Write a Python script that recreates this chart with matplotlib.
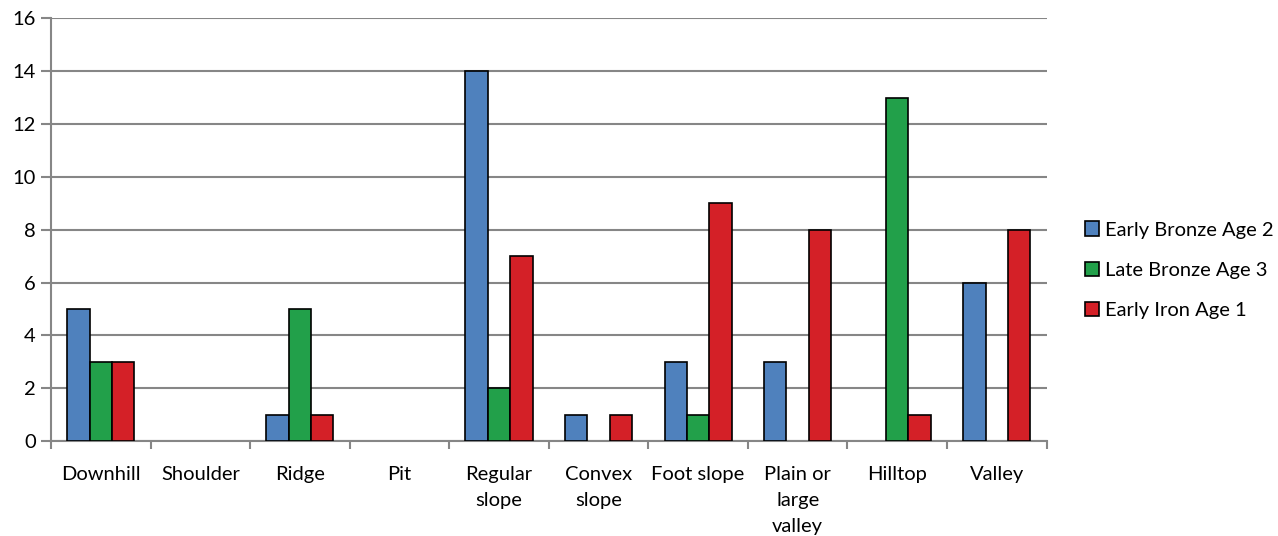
import numpy as np
import matplotlib.pyplot as plt

categories = ["Downhill", "Shoulder", "Ridge", "Pit", "Regular\nslope", "Convex\nslope",
              "Foot slope", "Plain or\nlarge\nvalley", "Hilltop", "Valley"]
early_bronze = [5, 0, 1, 0, 14, 1, 3, 3, 0, 6]
late_bronze = [3, 0, 5, 0, 2, 0, 1, 0, 13, 0]
early_iron = [3, 0, 1, 0, 7, 1, 9, 8, 1, 8]
series = ["Early Bronze Age 2", "Late Bronze Age 3", "Early Iron Age 1"]
colors = ["#4F81BD", "#22A04A", "#D42027"]

plt.rcParams['font.family'] = ['Lato', 'DejaVu Sans']

fig = plt.figure(figsize=(12.78, 5.36), dpi=100)
ax = fig.add_axes([0.0399, 0.177, 0.779, 0.789])

x = np.arange(len(categories))
w = 0.225
for i, (vals, lab, c) in enumerate(zip([early_bronze, late_bronze, early_iron], series, colors)):
    h = np.array(vals, dtype=float)
    h[h == 0] = np.nan
    ax.bar(x + (i - 1) * w, h, width=w, color=c, edgecolor='black', linewidth=1.2,
           label=lab, zorder=3)

ax.set_xlim(-0.5, len(categories) - 0.5)
ax.set_ylim(0, 16)
ax.set_yticks(range(0, 17, 2))
ax.yaxis.grid(True, color='#868686', linewidth=1.5, zorder=0)
ax.set_axisbelow(True)

ax.set_xticks(x)
ax.set_xticklabels(categories, fontsize=14.5, linespacing=1.65, va='top')
ax.set_xticks(np.arange(-0.5, len(categories), 1), minor=True)
ax.tick_params(axis='x', which='major', length=0, pad=18)
ax.tick_params(axis='x', which='minor', length=6, width=1.5, color='#868686')
ax.tick_params(axis='y', length=7, width=1.5, color='#868686', labelsize=14.5, pad=4)

for s in ['top', 'right']:
    ax.spines[s].set_visible(False)
for s in ['left', 'bottom']:
    ax.spines[s].set_color('#868686')
    ax.spines[s].set_linewidth(1.5)

ax.legend(loc='center left', bbox_to_anchor=(1.02, 0.404), frameon=False, fontsize=14.5,
          handlelength=0.7, handleheight=0.7, handletextpad=0.3, labelspacing=1.15)

fig.savefig("out.png", dpi=100)
